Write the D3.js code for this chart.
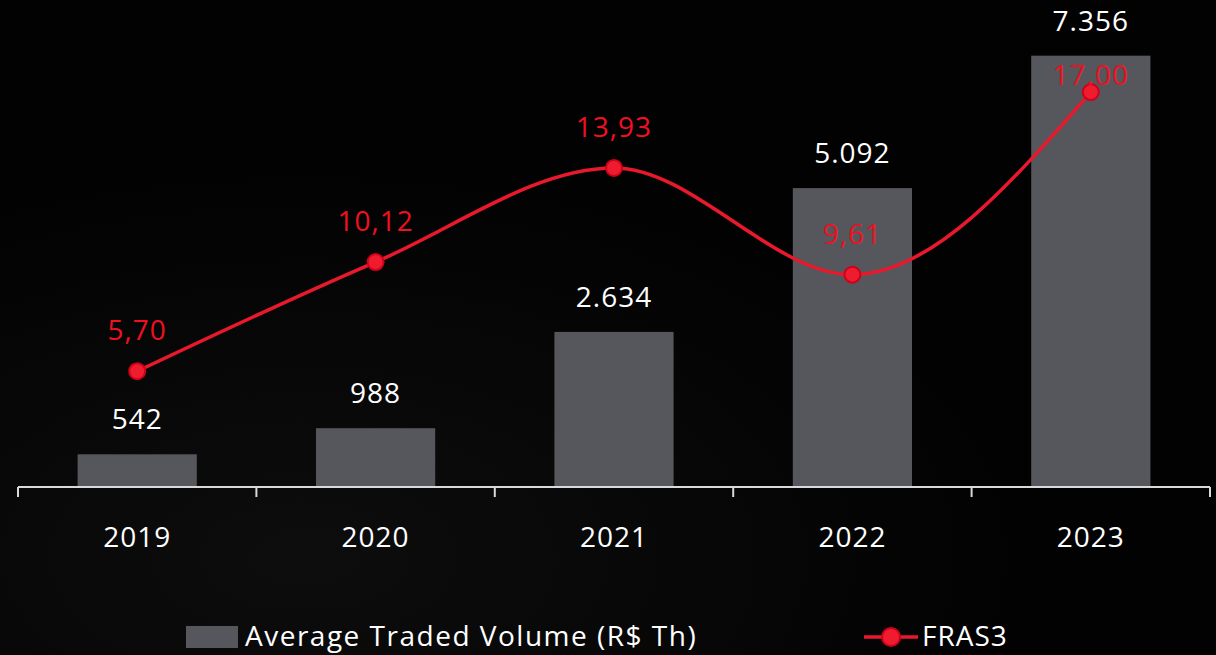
<!DOCTYPE html>
<html>
<head>
<meta charset="utf-8">
<script src="https://cdn.jsdelivr.net/npm/d3@7"></script>
<style>
  html, body { margin: 0; padding: 0; background: #030303; }
  #container { width: 1216px; height: 655px; }
</style>
</head>
<body>
<div id="container"></div>
<script>
const years = ['2019', '2020', '2021', '2022', '2023'];
const volume = [542, 988, 2634, 5092, 7356];
const volumeLabels = ['542', '988', '2.634', '5.092', '7.356'];
const fras3 = [5.70, 10.12, 13.93, 9.61, 17.00];
const fras3Labels = ['5,70', '10,12', '13,93', '9,61', '17.00'];

const W = 1216, H = 655;
const font = '\'Open Sans\', sans-serif';
const red = '#e8192c';

const svg = d3.select('#container')
    .append('svg')
    .attr('width', W)
    .attr('height', H)
    .style('background-color', '#030303');

// faint background shading
const defs = svg.append('defs');
const bg = defs.append('radialGradient')
    .attr('id', 'bgGrad')
    .attr('cx', '25%').attr('cy', '85%').attr('r', '60%');
bg.append('stop').attr('offset', '0%').attr('stop-color', '#0d0d0d');
bg.append('stop').attr('offset', '100%').attr('stop-color', '#020202');
svg.append('rect')
    .attr('width', W).attr('height', H)
    .attr('fill', 'url(#bgGrad)');

const x = d3.scaleBand()
    .domain(years)
    .range([18, 1210])
    .paddingInner(0.5)
    .paddingOuter(0.25);

const yBar = d3.scaleLinear().domain([0, 8000]).range([486, 18]);
const yLine = d3.scaleLinear().domain([0, 20]).range([512, 18]);

// bars
svg.append('g').selectAll('rect')
    .data(years)
    .join('rect')
    .attr('x', d => x(d))
    .attr('width', x.bandwidth())
    .attr('y', (d, i) => yBar(volume[i]))
    .attr('height', (d, i) => yBar(0) - yBar(volume[i]))
    .attr('fill', '#56575c');

// bar labels
svg.append('g').selectAll('text')
    .data(years)
    .join('text')
    .attr('x', d => x(d) + x.bandwidth() / 2)
    .attr('y', (d, i) => yBar(volume[i]) - 25)
    .attr('text-anchor', 'middle')
    .style('font-family', font)
    .style('font-size', '28px')
    .style('letter-spacing', '1px')
    .style('fill', '#ffffff')
    .text((d, i) => volumeLabels[i]);

// x axis
const axisY = yBar(0) + 1;
const axis = svg.append('g')
    .attr('transform', `translate(0,${axisY})`)
    .call(d3.axisBottom(x).tickSize(0).tickPadding(40));
axis.select('.domain').remove();
axis.selectAll('text')
    .style('font-family', font)
    .style('font-size', '28px')
    .style('letter-spacing', '1px')
    .style('fill', '#ffffff');
svg.append('line')
    .attr('x1', x.range()[0]).attr('x2', x.range()[1])
    .attr('y1', axisY).attr('y2', axisY)
    .attr('stroke', '#d9d9d9').attr('stroke-width', 2);
const bounds = years.map(d => x(d) - x.step() * 0.25).concat([x.range()[1]]);
svg.append('g').selectAll('line')
    .data(bounds)
    .join('line')
    .attr('x1', d => d).attr('x2', d => d)
    .attr('y1', axisY).attr('y2', axisY + 10)
    .attr('stroke', '#d9d9d9').attr('stroke-width', 2);

// FRAS3 line
const cx = d => x(d) + x.bandwidth() / 2;
const line = d3.line()
    .x(d => cx(d))
    .y((d, i) => yLine(fras3[i]))
    .curve(d3.curveMonotoneX);
svg.append('path')
    .datum(years)
    .attr('d', line)
    .attr('fill', 'none')
    .attr('stroke', red)
    .attr('stroke-width', 3.5);
svg.append('g').selectAll('circle')
    .data(years)
    .join('circle')
    .attr('cx', cx)
    .attr('cy', (d, i) => yLine(fras3[i]))
    .attr('r', 8)
    .attr('fill', '#ee1c2e')
    .attr('stroke', '#d0001a')
    .attr('stroke-width', 2);
svg.append('g').selectAll('text')
    .data(years)
    .join('text')
    .attr('x', cx)
    .attr('y', (d, i) => yLine(fras3[i]) - (i === years.length - 1 ? 7 : 31))
    .attr('text-anchor', 'middle')
    .style('font-family', font)
    .style('font-size', '28px')
    .style('letter-spacing', '1px')
    .style('fill', '#f01020')
    .text((d, i) => fras3Labels[i]);

// legend
const legend = svg.append('g');
legend.append('rect')
    .attr('x', 186).attr('y', 626)
    .attr('width', 52).attr('height', 22)
    .attr('fill', '#56575c');
legend.append('text')
    .attr('x', 245).attr('y', 646)
    .style('font-family', font)
    .style('font-size', '28px')
    .style('letter-spacing', '1.5px')
    .style('fill', '#ffffff')
    .text('Average Traded Volume (R$ Th)');
legend.append('line')
    .attr('x1', 864).attr('x2', 918)
    .attr('y1', 637).attr('y2', 637)
    .attr('stroke', red).attr('stroke-width', 3.5);
legend.append('circle')
    .attr('cx', 891).attr('cy', 637).attr('r', 9)
    .attr('fill', '#ee1c2e')
    .attr('stroke', '#d0001a')
    .attr('stroke-width', 2);
legend.append('text')
    .attr('x', 922).attr('y', 646)
    .style('font-family', font)
    .style('font-size', '28px')
    .style('letter-spacing', '1px')
    .style('fill', '#ffffff')
    .text('FRAS3');
</script>
</body>
</html>
